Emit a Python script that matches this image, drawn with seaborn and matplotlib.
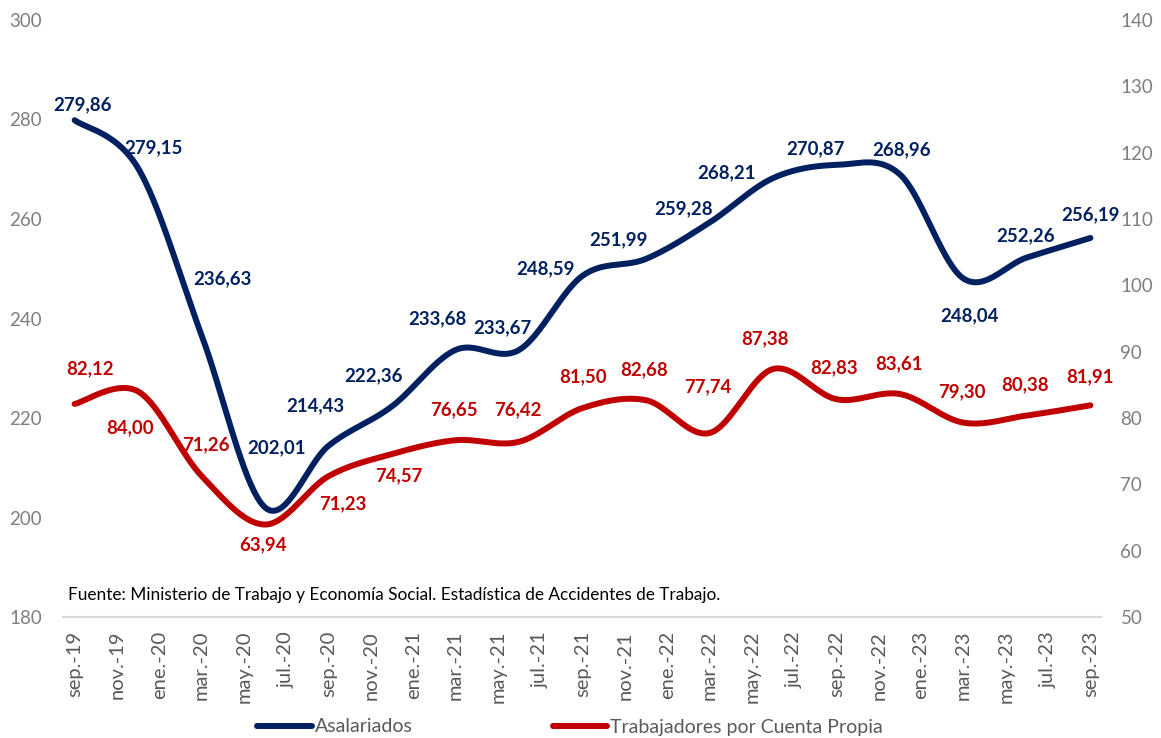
#librerias
import numpy as np
import pandas as pd
import matplotlib
matplotlib.use("Agg")
import matplotlib.pyplot as plt
import seaborn as sns

#datos trimestrales (sep.-19 a sep.-23)
meses = [0, 3, 6, 9, 12, 15, 18, 21, 24, 27, 30, 33, 36, 39, 42, 45, 48]
asalariados = [279.86, 270.2, 236.63, 202.01, 214.43, 222.36, 233.68, 233.67, 248.59,
               251.99, 259.28, 268.21, 270.87, 268.96, 248.04, 252.26, 256.19]
etiquetas_asal = ["279,86", "279,15", "236,63", "202,01", "214,43", "222,36", "233,68", "233,67",
                  "248,59", "251,99", "259,28", "268,21", "270,87", "268,96", "248,04", "252,26", "256,19"]
cuenta_propia = [82.12, 84.00, 71.26, 63.94, 71.23, 74.57, 76.65, 76.42, 81.50,
                 82.68, 77.74, 87.38, 82.83, 83.61, 79.30, 80.38, 81.91]
etiquetas_x = ["sep.-19", "nov.-19", "ene.-20", "mar.-20", "may.-20", "jul.-20", "sep.-20",
               "nov.-20", "ene.-21", "mar.-21", "may.-21", "jul.-21", "sep.-21", "nov.-21",
               "ene.-22", "mar.-22", "may.-22", "jul.-22", "sep.-22", "nov.-22", "ene.-23",
               "mar.-23", "may.-23", "jul.-23", "sep.-23"]

#posicion de las etiquetas de datos (desplazamiento en pixeles)
desp_asal = [(8, 15), (15, 21), (21, 57), (11, 60), (-13, 40), (-19, 31), (-18, 31), (-17, 22),
             (-37, 7), (-28, 19), (-26, 14), (-46, 5), (-21, 16), (2, 25), (6, -37), (-1, 22), (0, 23)]
desp_cp = [(15, 35), (-8, -36), (4, 31), (-2, -20), (14, -28), (7, -22), (-2, 30), (-1, 32),
           (1, 31), (-2, 30), (-2, 46), (-8, 30), (-2, 31), (-1, 30), (-2, 31), (-2, 31), (0, 29)]

AZUL = "#002060"
ROJO = "#C00000"


#linea suavizada tipo excel (bezier por tramos)
def suavizar(x, y, n=40):
    P = np.column_stack([x, y]).astype(float)
    P = np.vstack([P[0], P, P[-1]])
    xs, ys = [], []
    for i in range(1, len(P) - 2):
        p0, p1 = P[i], P[i + 1]
        c1 = p0 + (P[i + 1] - P[i - 1]) / 6
        c2 = p1 - (P[i + 2] - P[i]) / 6
        t = np.linspace(0, 1, n)[:, None]
        b = (1 - t) ** 3 * p0 + 3 * (1 - t) ** 2 * t * c1 + 3 * (1 - t) * t ** 2 * c2 + t ** 3 * p1
        xs.extend(b[:, 0]); ys.extend(b[:, 1])
    return pd.DataFrame({"x": xs, "y": ys})


sns.set_theme(style="white")
plt.rcParams["font.family"] = ["Lato", "DejaVu Sans"]

fig = plt.figure(figsize=(11.61, 7.38), dpi=100)
ax = fig.add_axes([63 / 1161, 1 - 617 / 738, (1101 - 63) / 1161, (617 - 20) / 738])
ax2 = ax.twinx()

sns.lineplot(data=suavizar(meses, asalariados), x="x", y="y", ax=ax, color=AZUL,
             linewidth=4.3, solid_capstyle="round", sort=False, label="Asalariados", legend=False)
sns.lineplot(data=suavizar(meses, cuenta_propia), x="x", y="y", ax=ax2, color=ROJO,
             linewidth=4.3, solid_capstyle="round", sort=False,
             label="Trabajadores por Cuenta Propia", legend=False)

#etiquetas de datos
for m, v, txt, d in zip(meses, asalariados, etiquetas_asal, desp_asal):
    ax.annotate(txt, (m, v), xytext=(d[0], d[1]), textcoords="offset pixels",
                ha="center", va="center", color=AZUL, fontsize=13.4, fontweight="bold")
for m, v, d in zip(meses, cuenta_propia, desp_cp):
    ax2.annotate(f"{v:.2f}".replace(".", ","), (m, v), xytext=(d[0], d[1]), textcoords="offset pixels",
                 ha="center", va="center", color=ROJO, fontsize=13.4, fontweight="bold")

#ejes
ax.set_xlim(-0.55, 48.5)
ax.set_ylim(180, 300)
ax2.set_ylim(50, 140)
ax.set_yticks(range(180, 301, 20))
ax2.set_yticks(range(50, 141, 10))
ax.set_xticks(range(0, 49, 2))
ax.set_xticklabels(etiquetas_x, rotation=90, va="top", ha="center")
ax.set_xlabel("")
ax.set_ylabel("")
ax2.set_ylabel("")
ax.tick_params(axis="x", length=0, pad=10, labelsize=14.5, labelcolor="#595959")
ax.tick_params(axis="y", length=0, pad=15, labelsize=13.5, labelcolor="#7f7f7f")
ax2.tick_params(axis="y", length=0, pad=14, labelsize=13.5, labelcolor="#7f7f7f")
for a in (ax, ax2):
    for s in ("top", "left", "right"):
        a.spines[s].set_visible(False)
    a.spines["bottom"].set_color("#d9d9d9")
    a.spines["bottom"].set_linewidth(1.5)
    a.grid(False)

#fuente
fig.text(68 / 1161, 1 - 595 / 738,
         "Fuente: Ministerio de Trabajo y Economía Social. Estadística de Accidentes de Trabajo.",
         fontsize=12.4, color="#000000", va="center", ha="left")

#leyenda
handles = ax.get_lines()[:1] + ax2.get_lines()[:1]
fig.legend(handles, [h.get_label() for h in handles], loc="center", ncol=2,
           bbox_to_anchor=(0.491, 1 - 727 / 738), frameon=False, fontsize=14,
           labelcolor="#595959", handlelength=2.8, handletextpad=0.15, columnspacing=7.2)

fig.savefig("out.png", dpi=100)
